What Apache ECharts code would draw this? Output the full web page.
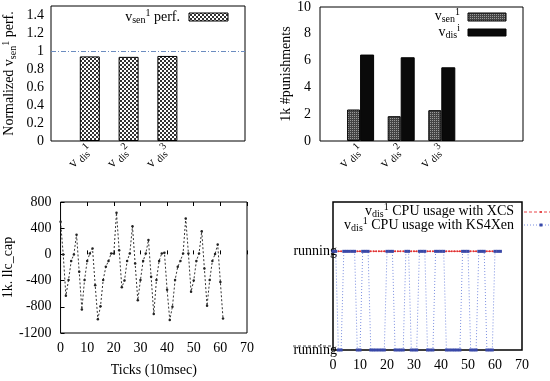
<!DOCTYPE html>
<html><head><meta charset="utf-8">
<script src="https://cdn.jsdelivr.net/npm/echarts@6/dist/echarts.min.js"></script>
<style>html,body{margin:0;padding:0;background:#fff}#c{width:550px;height:381px}</style>
</head><body><div id="c"></div>
<script>
// ---- data ----
const disIdx = ['1', '2', '3'];
const perfValues = [0.94, 0.935, 0.945];
const senPunish = [2.35, 1.85, 2.3];
const disPunish = [6.45, 6.25, 5.5];
const llcCap = [500, 0, -630, -390, -100, 0, 300, -265, -840, -390, -100, 15, 90, -470, -990, -790, -390, -190, -100, 15, 15, 636, 65, -500, -400, -100, 15, 430, -140, -700, -390, -100, 15, 220, -340, -910, -390, -100, 15, 25, -540, -1000, -800, -390, -190, -100, 15, 550, 15, -570, -400, -100, 15, 355, -215, -785, -390, -100, 5, 150, -420, -980];
const xcsUsage = [1,1,1,1,1,1,1,1,1,1,1,1,1,1,1,1,1,1,1,1,1,1,1,1,1,1,1,1,1,1,1,1,1,1,1,1,1,1,1,1,1,1,1,1,1,1,1,1,1,1,1,1,1,1,1,1,1,1,1,1,1,1,1];
const ks4xenUsage = [1,1,0,0,1,1,1,1,1,0,0,1,1,1,0,0,0,0,0,0,1,1,1,0,0,0,0,1,1,0,0,0,1,1,1,0,0,0,1,1,1,1,0,0,0,0,0,0,1,1,1,0,0,0,1,1,1,0,0,0,1,1,1];
const stateLabels = { 0: 'running', 1: 'running' };

const FF = 'Liberation Serif';
function pattern(size, draw) {
  const c = document.createElement('canvas'); c.width = c.height = size;
  const ctx = c.getContext('2d'); draw(ctx); return { image: c, repeat: 'repeat' };
}
const checker = pattern(4, ctx => { ctx.fillStyle = '#fff'; ctx.fillRect(0,0,4,4); ctx.fillStyle = '#333'; ctx.fillRect(0,0,2,2); ctx.fillRect(2,2,2,2); });
const dotted = pattern(2, ctx => { ctx.fillStyle = '#444'; ctx.fillRect(0,0,2,2); ctx.fillStyle = '#9a9a9a'; ctx.fillRect(0,0,1,1); });

const rich = {
  v: { fontFamily: FF, fontSize: 14, color: '#000', lineHeight: 17, verticalAlign: 'middle' },
  t: { fontFamily: FF, fontSize: 14, color: '#000', lineHeight: 17, verticalAlign: 'middle' },
  s: { fontFamily: FF, fontSize: 10, color: '#000', lineHeight: 10, verticalAlign: 'bottom' },
  p: { fontFamily: FF, fontSize: 10, color: '#000', lineHeight: 10, verticalAlign: 'top' }
};
const cats = ['', 'a', 'b', 'c', '', ''];
const catLabel = (val, i) => (i >= 1 && i <= 3) ? '{v|v} {s|dis}{p|' + disIdx[i - 1] + '}' : '';
const lbl = { fontFamily: FF, fontSize: 14, color: '#000' };
const plain = v => String(v);

const chart = echarts.init(document.getElementById('c'), null, { renderer: 'canvas' });
const option = {
  animation: false,
  textStyle: { fontFamily: FF },
  grid: [
    { left: 50, top: 6, width: 195, height: 135, show: true, borderColor: '#000', borderWidth: 1 },
    { left: 320, top: 6, width: 203, height: 135, show: true, borderColor: '#000', borderWidth: 1 },
    { left: 59, top: 202, width: 188, height: 131, show: true, borderColor: '#000', borderWidth: 1 },
    { left: 333, top: 202, width: 189, height: 148, show: true, borderColor: '#000', borderWidth: 1.5 }
  ],
  xAxis: [
    { gridIndex: 0, type: 'category', data: cats, boundaryGap: false, axisLine: { show: false }, axisTick: { show: false },
      axisLabel: { interval: 0, rotate: 45, margin: 6, formatter: catLabel, rich: rich } },
    { gridIndex: 1, type: 'category', data: cats, boundaryGap: false, axisLine: { show: false }, axisTick: { show: false },
      axisLabel: { interval: 0, rotate: 45, margin: 6, formatter: catLabel, rich: rich } },
    { gridIndex: 2, type: 'value', min: 0, max: 70, interval: 10, splitLine: { show: false }, axisLine: { show: false },
      axisTick: { inside: true, length: 4, lineStyle: { color: '#000' } }, axisLabel: Object.assign({ margin: 8, formatter: plain }, lbl),
      name: 'Ticks (10msec)', nameLocation: 'middle', nameGap: 30, nameTextStyle: lbl },
    { gridIndex: 3, type: 'value', min: 0, max: 70, interval: 10, splitLine: { show: false }, axisLine: { show: false },
      axisTick: { show: false }, axisLabel: Object.assign({ margin: 8, formatter: plain }, lbl) },
    { gridIndex: 2, type: 'value', position: 'top', min: 0, max: 70, interval: 10, splitLine: { show: false }, axisLine: { show: false },
      axisTick: { inside: true, length: 4, lineStyle: { color: '#000' } }, axisLabel: { show: false } }
  ],
  yAxis: [
    { gridIndex: 0, type: 'value', min: 0, max: 1.5, interval: 0.2, showMaxLabel: false, splitLine: { show: false },
      axisLine: { show: false }, axisTick: { show: false }, axisLabel: Object.assign({ margin: 7, formatter: plain }, lbl),
      name: '{t|Normalized v}{s|sen}{p|1}{t| perf.}', nameLocation: 'middle', nameRotate: 90, nameGap: 33,
      nameTextStyle: { rich: rich } },
    { gridIndex: 1, type: 'value', min: 0, max: 10, interval: 2, splitLine: { show: false },
      axisLine: { show: false }, axisTick: { show: false }, axisLabel: Object.assign({ margin: 9, formatter: plain }, lbl),
      name: '1k #punishments', nameLocation: 'middle', nameRotate: 90, nameGap: 26, nameTextStyle: lbl },
    { gridIndex: 2, type: 'value', min: -1200, max: 800, interval: 400, splitLine: { show: false },
      axisLine: { show: false }, axisTick: { inside: true, length: 4, lineStyle: { color: '#000' } }, axisLabel: Object.assign({ margin: 9, formatter: plain }, lbl),
      name: '1k. llc_cap', nameLocation: 'middle', nameRotate: 90, nameGap: 43, nameTextStyle: lbl },
    { gridIndex: 3, type: 'value', min: 0, max: 1.5, interval: 0.5, splitLine: { show: false },
      axisLine: { show: false }, axisTick: { show: false },
      axisLabel: Object.assign({ margin: -4, formatter: v => stateLabels[v] || '' }, lbl) }
  ],
  series: [
    { type: 'bar', xAxisIndex: 0, yAxisIndex: 0, barWidth: 20, data: [null].concat(perfValues, [null, null]),
      itemStyle: { color: checker, borderColor: '#000', borderWidth: 1 },
      markLine: { silent: true, symbol: 'none', label: { show: false },
        lineStyle: { color: '#6b8cc0', type: [5, 2, 1, 2], width: 1 }, data: [{ yAxis: 1 }] } },
    { type: 'bar', xAxisIndex: 1, yAxisIndex: 1, barWidth: 13, barGap: '0%', data: [null].concat(senPunish, [null, null]),
      itemStyle: { color: dotted, borderColor: '#000', borderWidth: 1 } },
    { type: 'bar', xAxisIndex: 1, yAxisIndex: 1, barWidth: 14, barGap: '0%', data: [null].concat(disPunish, [null, null]),
      itemStyle: { color: '#0a0a0a', borderColor: '#000', borderWidth: 1 } },
    { type: 'line', xAxisIndex: 2, yAxisIndex: 2, data: llcCap.map((v, i) => [i, v]),
      lineStyle: { color: '#333', width: 1, type: [2, 2] }, symbol: 'circle', symbolSize: 2.5, itemStyle: { color: '#222' } },
    { type: 'line', xAxisIndex: 3, yAxisIndex: 3, data: xcsUsage.map((v, i) => [i, v]),
      lineStyle: { color: '#e8474a', width: 1, type: [3, 2] }, symbol: 'circle', symbolSize: 2, itemStyle: { color: '#e03030' } },
    { type: 'line', xAxisIndex: 3, yAxisIndex: 3, data: ks4xenUsage.map((v, i) => [i, v]), clip: false,
      lineStyle: { color: '#7a8ee0', width: 1, type: [1, 2] }, symbol: 'rect', symbolSize: 3, itemStyle: { color: '#3848a8' } }
  ],
  graphic: [
    { type: 'text', x: 180, y: 17, style: { text: '{v|v}{s|sen}{p|1}{t| perf.}', rich: rich, align: 'right', verticalAlign: 'middle' } },
    { type: 'rect', shape: { x: 189, y: 13, width: 39, height: 8 }, style: { fill: checker, stroke: '#000', lineWidth: 1 } },
    { type: 'text', x: 460, y: 16, style: { text: '{v|v}{s|sen}{p|1}', rich: rich, align: 'right', verticalAlign: 'middle' } },
    { type: 'rect', shape: { x: 468, y: 13, width: 38, height: 8 }, style: { fill: dotted, stroke: '#000', lineWidth: 1 } },
    { type: 'text', x: 460, y: 32, style: { text: '{v|v}{s|dis}{p|i}', rich: rich, align: 'right', verticalAlign: 'middle' } },
    { type: 'rect', shape: { x: 468, y: 29, width: 38, height: 7 }, style: { fill: '#0a0a0a', stroke: '#000', lineWidth: 1 } },
    { type: 'text', x: 514, y: 211, style: { text: '{v|v}{s|dis}{p|1}{t| CPU usage with XCS}', rich: rich, align: 'right', verticalAlign: 'middle' } },
    { type: 'line', shape: { x1: 524, y1: 212, x2: 552, y2: 212 }, style: { stroke: '#e8474a', lineWidth: 1, lineDash: [3, 2] } },
    { type: 'circle', shape: { cx: 541, cy: 212, r: 1 }, style: { fill: '#e03030' } },
    { type: 'text', x: 514, y: 225, style: { text: '{v|v}{s|dis}{p|1}{t| CPU usage with KS4Xen}', rich: rich, align: 'right', verticalAlign: 'middle' } },
    { type: 'line', shape: { x1: 524, y1: 225, x2: 552, y2: 225 }, style: { stroke: '#7a8ee0', lineWidth: 1, lineDash: [1, 2] } },
    { type: 'rect', shape: { x: 539.5, y: 223.5, width: 3, height: 3 }, style: { fill: '#3848a8' } },
    { type: 'line', shape: { x1: 293, y1: 346, x2: 333, y2: 346 }, style: { stroke: '#444', lineWidth: 1, lineDash: [3, 2] } }
  ]
};
chart.setOption(option);
</script></body></html>
